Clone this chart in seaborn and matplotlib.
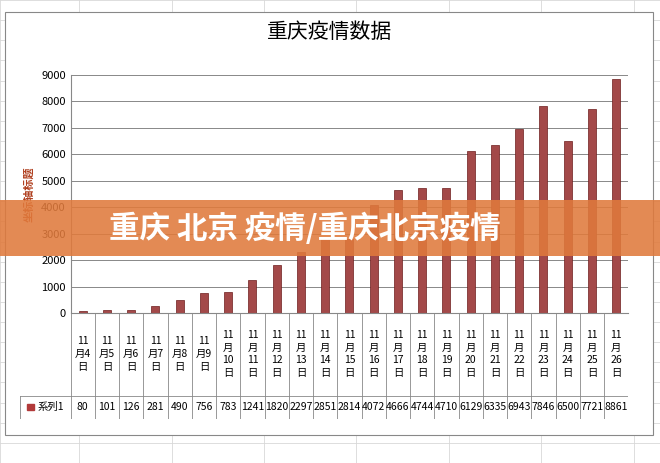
import matplotlib
matplotlib.use("Agg")
import matplotlib.pyplot as plt
import seaborn as sns
import pandas as pd
import matplotlib.patches as mpatches
from matplotlib import font_manager

names = {f.name for f in font_manager.fontManager.ttflist}
cjk = [n for n in ["Noto Sans CJK SC", "Noto Sans CJK JP", "Noto Sans CJK TC", "Noto Sans CJK KR"] if n in names]
plt.rcParams["font.family"] = "sans-serif"
plt.rcParams["font.sans-serif"] = cjk + ["DejaVu Sans"]

days = list(range(4, 27))
categories = [f"11\n月{d}\n日" if d < 10 else f"11\n月\n{d}\n日" for d in days]
values = [80, 101, 126, 281, 490, 756, 783, 1241, 1820, 2297, 2851, 2814, 4072,
          4666, 4744, 4710, 6129, 6335, 6943, 7846, 6500, 7721, 8861]
yticks = list(range(0, 10000, 1000))
series_name = "系列1"

df = pd.DataFrame({"cat": categories, "val": values})

fig = plt.figure(figsize=(6.6, 4.63), dpi=100)
fig.patch.set_facecolor("white")
for x in [0.0, 0.12, 0.26, 0.40, 0.54, 0.68, 0.82, 0.96]:
    fig.add_artist(plt.Line2D([x, x], [0, 1], color="#d8d8d8", lw=0.6, zorder=-5))
for y in [i / 23 for i in range(24)]:
    fig.add_artist(plt.Line2D([0, 1], [y, y], color="#d8d8d8", lw=0.6, zorder=-5))
fig.add_artist(mpatches.Rectangle((0.008, 0.06), 0.982, 0.915, transform=fig.transFigure,
                                  facecolor="white", edgecolor="#888888", lw=0.8, zorder=-4))

L, R = 0.107, 0.952
ax = fig.add_axes([L, 0.324, R - L, 0.514])
ax.set_facecolor("white")
sns.barplot(data=df, x="cat", y="val", color="#b23a3a", width=0.33, ax=ax,
            edgecolor="#6e1c1c", linewidth=0.5)
ax.set_ylim(0, 9000)
ax.set_yticks(yticks)
ax.set_yticklabels([str(t) for t in yticks], fontsize=8)
ax.tick_params(length=0)
ax.grid(axis="y", color="#888888", lw=0.7)
ax.set_axisbelow(True)
ax.set_xticks([])
ax.set_xlabel("")
ax.set_ylabel("坐标轴标题", fontsize=8, fontweight="bold", color="#b04020")
for s in ["top", "right"]:
    ax.spines[s].set_visible(False)
ax.spines["left"].set_color("#888888")
ax.spines["bottom"].set_color("#888888")
n = len(values)
ax.set_xlim(-0.5, n - 0.5)

fig.text(0.5, 0.93, "重庆疫情数据", ha="center", va="center", fontsize=15)

tx = fig.add_axes([0.03, 0.095, R - 0.03, 0.23])
tx.set_xlim(0, 1); tx.set_ylim(0, 1); tx.axis("off")
x0 = (L - 0.03) / (R - 0.03)
w = (1 - x0) / n
ysplit = 0.22
lc = "#888888"
tx.plot([x0, 1], [1, 1], color=lc, lw=0.6)
tx.plot([0, 1], [ysplit, ysplit], color=lc, lw=0.6)
tx.plot([0, 1], [0, 0], color=lc, lw=0.6)
tx.plot([0, 0], [0, ysplit], color=lc, lw=0.6)
for i in range(n + 1):
    tx.plot([x0 + i * w] * 2, [0, 1], color=lc, lw=0.6)
for i, (c, v) in enumerate(zip(categories, values)):
    xc = x0 + (i + 0.5) * w
    tx.text(xc, (1 + ysplit) / 2, c, ha="center", va="center", fontsize=7.5, linespacing=1.35)
    tx.text(xc, ysplit / 2, str(v), ha="center", va="center", fontsize=7.5)
tx.add_patch(mpatches.Rectangle((0.012, ysplit / 2 - 0.03), 0.012, 0.06, color="#b23a3a"))
tx.text(0.03, ysplit / 2, series_name, ha="left", va="center", fontsize=7.5)

fig.add_artist(mpatches.Rectangle((0, 0.448), 1, 0.12, transform=fig.transFigure,
                                  facecolor="#e07a3c", alpha=0.88, edgecolor="none", zorder=10))
fig.text(0.165, 0.506, "重庆 北京 疫情/重庆北京疫情", ha="left", va="center",
         fontsize=22, color="white", fontweight="bold", zorder=11)

fig.savefig("out.png", dpi=100)
